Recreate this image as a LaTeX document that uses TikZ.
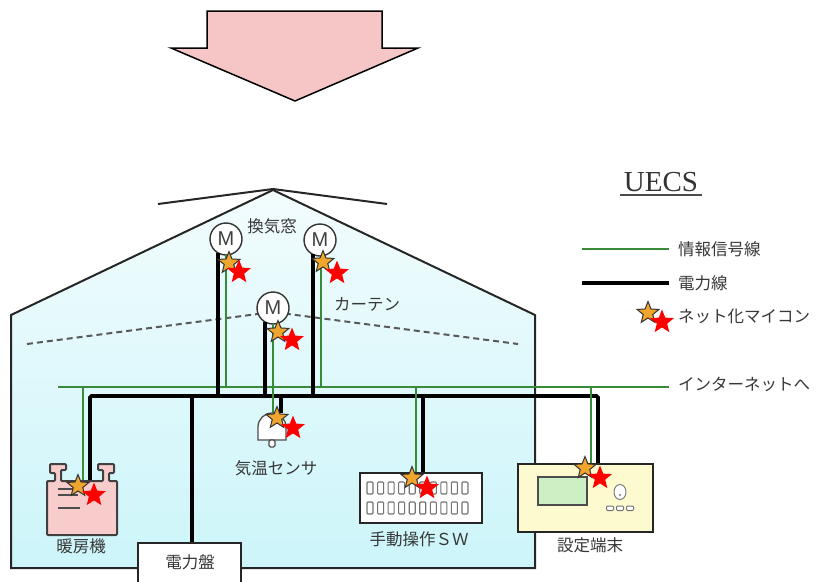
\documentclass[tikz,border=0pt]{standalone}
\usepackage{fontspec}
\newfontfamily\jp{Noto Sans CJK JP}
\newfontfamily\uecsfont{Liberation Serif}
\newfontfamily\mfont{Liberation Sans}
\usetikzlibrary{shapes.geometric,calc}
\definecolor{sig}{RGB}{56,140,56}
\definecolor{txt}{RGB}{55,55,55}
\definecolor{arrowpink}{RGB}{246,198,198}
\definecolor{heatpink}{RGB}{249,204,204}
\definecolor{termyellow}{RGB}{253,250,208}
\definecolor{screengreen}{RGB}{204,240,196}
\definecolor{starorange}{RGB}{240,165,45}
\definecolor{skyT}{RGB}{242,252,253}
\definecolor{skyB}{RGB}{204,245,250}
\begin{document}
\begin{tikzpicture}[x=1pt,y=-1pt,
  sigline/.style={draw=sig,line width=1.5pt},
  power/.style={draw=black,line width=3.6pt,rounded corners=1.5pt},
  wall/.style={draw=black!85,line width=2pt,line join=miter},
  motor/.style={circle,draw=black!80,fill=white,line width=1.4pt,minimum size=32pt,inner sep=0pt,
    font=\mfont\fontsize{20}{20}\selectfont,text=black!75},
  jplabel/.style={font=\jp\fontsize{16.5}{18}\selectfont,text=txt,inner sep=0pt},
  legendlabel/.style={jplabel,anchor=west},
  ostar/.style={star,star points=5,star point ratio=2.3,draw=black!80,fill=starorange,line width=1pt,
    minimum size=23pt,inner sep=0pt},
  rstar/.style={star,star points=5,star point ratio=2.3,fill=red,minimum size=25pt,inner sep=0pt},
  swbutton/.style={draw=black!55,fill=white,line width=1.1pt,rounded corners=1pt,
    minimum width=6pt,minimum height=12pt,inner sep=0pt},
  box/.style={draw=black!85,line width=2pt,inner sep=0pt},
]
\useasboundingbox (0,0) rectangle (818,581);

% downward block arrow
\draw[fill=arrowpink,draw=black,line width=1.5pt,line join=miter]
  (207,11) -- (382,11) -- (382,48) -- (418,48) -- (295,101) -- (171,48) -- (207,48) -- cycle;

% greenhouse body
\path[top color=skyT,bottom color=skyB]
  (11,568) -- (11,315) -- (273,190) -- (535,315) -- (535,568) -- cycle;
\draw[wall] (11,568) -- (11,315) -- (273,190) -- (535,315) -- (535,568) -- cycle;
% ridge vent cap
\draw[wall] (158,204) -- (273,189) -- (387,204);
% curtain
\draw[draw=black!65,line width=2pt,dash pattern=on 6pt off 4pt] (27,344) -- (273,312) -- (518,344);

% motors
\node[motor] (m1) at (226,239) {M};
\node[motor] (m2) at (320,240) {M};
\node[motor] (m3) at (273,308) {M};
\node[jplabel] (vent) at (272,226) {換気窓};
\node[jplabel] (curtain) at (367,304) {カーテン};

% bus junction points
\coordinate (sigL) at (58,387);
\coordinate (sigR) at (669,387);
\coordinate (heatTop) at (90,482);
\coordinate (termTop) at (598,464);

% signal bus
\draw[sigline] (sigL) -- (sigR);

% power bus
\draw[power] (heatTop) -- (90,396) -- (598,396) -- (termTop);
\draw[power] ($(m1)+(-8,14)$) -- (218,396);
\draw[power] ($(m2)+(-7,14)$) -- (313,396);
\draw[power] ($(m3)+(-8,14)$) -- (265,396);
\draw[power] (281,396) -- (281,413);
\draw[power] (192,396) -- (192,543);
\draw[power] (423,396) -- (423,473);

% signal drops
\draw[sigline] (83,387) -- (83,481);
\draw[sigline] ($(m1)+(0,16)$) -- (226,387);
\draw[sigline] ($(m2)+(1,16)$) -- (321,387);
\draw[sigline] ($(m3)+(0,16)$) -- (273,414);
\draw[sigline] (416,387) -- (416,473);
\draw[sigline] (591,387) -- (591,464);

% heater
\draw[fill=heatpink,draw=black!75,line width=2pt,rounded corners=1pt]
  (47,535) -- (47,481) -- (55,481) -- (55,473) -- (50,473) -- (50,464) -- (66,464) -- (66,470)
  -- (61,470) -- (61,481) -- (103,481) -- (103,470) -- (98,470) -- (98,464) -- (114,464)
  -- (114,473) -- (109,473) -- (109,481) -- (117,481) -- (117,535) -- cycle;
\draw[black!70,line width=1.5pt] (58,489) -- (74,489) (58,495) -- (78,495) (58,508) -- (80,508);
\node[jplabel] (heater) at (81,546) {暖房機};

% temperature sensor
\draw[fill=white,draw=black!70,line width=1.3pt]
  (258,440) -- (258,427) arc[start angle=180,end angle=360,radius=14] -- (286,440) -- cycle;
\draw[fill=white,draw=black!70,line width=1.2pt,rounded corners=1.5pt] (269,440) rectangle (275,447);
\node[jplabel] (sensor) at (276,468) {気温センサ};

% manual switch panel
\node[box,fill=white,minimum width=122pt,minimum height=50pt] (sw) at (421,498) {};
\foreach \i in {0,...,9}{
  \node[swbutton] (swa\i) at (370+10.55*\i,488) {};
  \node[swbutton] (swb\i) at (370+10.55*\i,508) {};
}
\node[jplabel] (swlabel) at (419,539) {手動操作ＳＷ};

% setting terminal
\node[box,fill=termyellow,line width=2.4pt,minimum width=135pt,minimum height=68pt] (term) at (585.5,498) {};
\draw[fill=screengreen,draw=black!70,line width=2.5pt] (538,477) rectangle (587,505);
\draw[fill=white,draw=black!50,line width=1pt] (620,492) ellipse[x radius=6,y radius=7.5];
\fill[black!40] (620,495) circle[radius=1.3];
\foreach \k in {0,1,2}{
  \draw[fill=white,draw=black!55,line width=1pt,rounded corners=1pt] (606.5+10*\k,506) rectangle (613.5+10*\k,510.5);
}
\node[jplabel] (termlabel) at (590,545) {設定端末};

% power panel
\draw[fill=white,draw=black!85,line width=2pt] (138,584) -- (138,543) -- (241,543) -- (241,584);
\node[jplabel] (panel) at (190,562) {電力盤};

% networked microcontrollers
\foreach \ox/\oy/\rx/\ry in {229/263/239/272, 323/262/337/273, 278/332/292/340, 277/418/293/428,
    78/486/94/495, 412/478/427/488, 585/468/600/478, 648/313/662/322}{
  \node[ostar] at (\ox,\oy) {};
  \node[rstar] at (\rx,\ry) {};
}

% legend
\node[font=\uecsfont\fontsize{29}{29}\selectfont,text=black!80,inner sep=0pt] (uecs) at (661,182) {UECS};
\draw[black!70,line width=2pt] (620,195) -- (702,195);
\coordinate (lgA) at (582,249);
\coordinate (lgB) at (582,283);
\draw[sigline] (lgA) -- ++(87,0);
\draw[power] (lgB) -- ++(87,0);
\node[legendlabel] (lg1) at (678,249) {情報信号線};
\node[legendlabel] (lg2) at (678,283) {電力線};
\node[legendlabel] (lg3) at (678,316) {ネット化マイコン};
\node[legendlabel] (lg4) at (678,384) {インターネットへ};
\end{tikzpicture}
\end{document}
